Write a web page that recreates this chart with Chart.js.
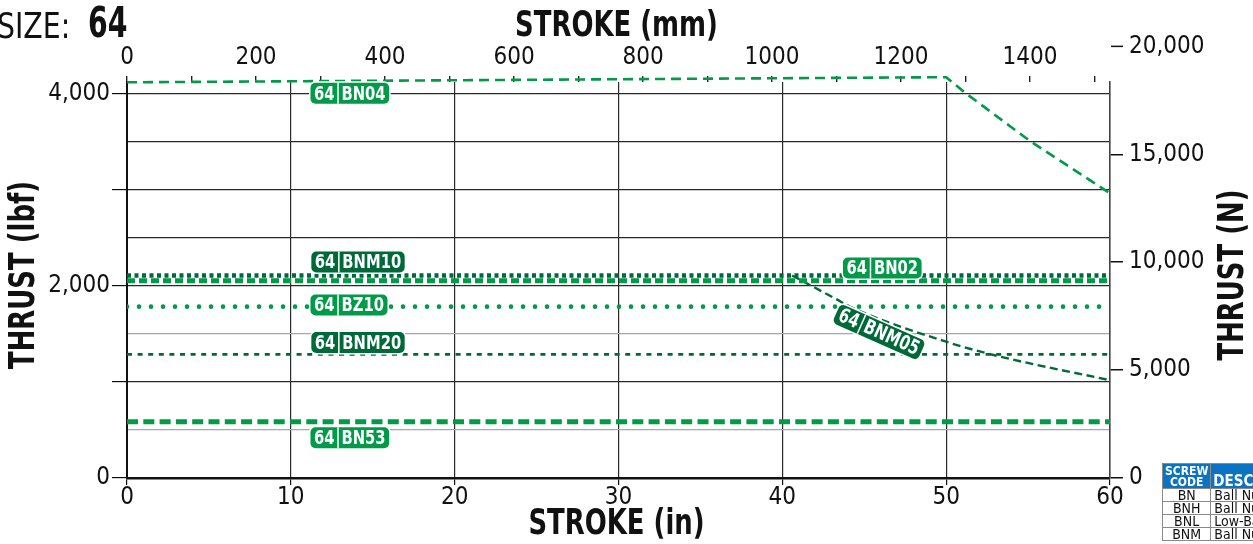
<!DOCTYPE html>
<html>
<head>
<meta charset="utf-8">
<title>Size 64 - Thrust vs Stroke</title>
<script src="https://cdn.jsdelivr.net/npm/chart.js@4.4.1/dist/chart.umd.min.js"></script>
<style>
    html, body { margin: 0; padding: 0; background: #fff; overflow: hidden; }
    body {
        width: 1253px; height: 544px; position: relative;
        font-family: "DejaVu Sans Condensed", "Liberation Sans Narrow", sans-serif;
        color: #111;
    }
    #thrustChart { position: absolute; left: 0; top: 0; }
    .size-lbl, .size-num {
        position: absolute; white-space: nowrap; line-height: 1; transform-origin: 0 0;
    }
    .size-lbl { left: -3px; top: 9px; font-size: 35px; transform: scaleX(0.9); }
    .size-num { left: 88px; top: 2px; font-size: 42px; font-weight: bold; transform: scaleX(0.75); }
    table.codes {
        position: absolute; left: 1162px; top: 463px;
        border-collapse: collapse; white-space: nowrap; font-size: 14px;
    }
    table.codes th {
        background: #0a74c2; color: #fff; font-weight: bold; border: 1px solid #8a8a8a;
        height: 24px; padding: 0 2px; vertical-align: bottom; line-height: 11px;
    }
    table.codes th.c1 { font-size: 12px; width: 46px; text-align: center; }
    table.codes th.c2 { font-size: 15px; text-align: left; width: 120px; line-height: 14px; }
    table.codes td { border: 1px solid #8a8a8a; height: 12px; line-height: 12px; padding: 0 3px; }
    table.codes td.c1 { text-align: center; }
</style>
</head>
<body>
<canvas id="thrustChart" width="1253" height="544"></canvas>
<div class="size-lbl">SIZE:</div>
<div class="size-num">64</div>
<table class="codes">
    <tr><th class="c1">SCREW<br>CODE</th><th class="c2">DESCRIPTION</th></tr>
    <tr><td class="c1">BN</td><td>Ball Nut</td></tr>
    <tr><td class="c1">BNH</td><td>Ball Nut, High Load</td></tr>
    <tr><td class="c1">BNL</td><td>Low-Backlash Ball Nut</td></tr>
    <tr><td class="c1">BNM</td><td>Ball Nut, Metric</td></tr>
</table>

<script>
// Stroke in inches, thrust in lbf
const bn04Stroke = [0, 50, 51.2, 55.2, 60];
const bn04Thrust = [4122, 4175, 4007, 3500, 2965];

const bnm10Stroke = [0, 60];
const bnm10Thrust = [2109, 2109];

const bn02Stroke = [0, 60];
const bn02Thrust = [2054, 2054];

const bz10Stroke = [0, 60];
const bz10Thrust = [1785, 1785];

const bnm20Stroke = [0, 60];
const bnm20Thrust = [1287, 1287];

const bn53Stroke = [0, 60];
const bn53Thrust = [587, 587];

const bnm05Stroke = [40.6, 43.2, 44.3, 50.05, 52.9, 60];
const bnm05Thrust = [2109, 1872, 1771, 1417, 1281, 1018];

// tick labels
const lbfGrid = [0, 500, 1000, 1500, 2000, 2500, 3000, 3500, 4000];
const lbfLabels = [0, 2000, 4000];
const newtonTicks = [0, 5000, 10000, 15000, 20000];
const mmLabelStep = 200;

// Chart colors
const green = '#009a49';
const darkGreen = '#00693a';
const ink = '#111';
const FONT = '"DejaVu Sans Condensed", "Liberation Sans Narrow", sans-serif';
const SQUEEZE = 0.8;   // the original uses a condensed face

const LBF_TO_N = 4.44822;
const IN_TO_MM = 25.4;
const lbfMax = 4125;   // top edge of plot area

// curve name tags (data coordinates of tag centre)
const tags = [
    { code: 'BN04',  x: 13.6, y: 4007, color: green,     angle: 0 },
    { code: 'BNM10', x: 14.1, y: 2250, color: darkGreen, angle: 0 },
    { code: 'BZ10',  x: 13.55, y: 1802, color: green,    angle: 0 },
    { code: 'BNM20', x: 14.1, y: 1411, color: darkGreen, angle: 0 },
    { code: 'BN53',  x: 13.6, y: 420,  color: green,     angle: 0 },
    { code: 'BN02',  x: 46.1, y: 2188, color: green,     angle: 0 },
    { code: 'BNM05', x: 45.9, y: 1521, color: darkGreen, angle: 24 }
];

function points(xs, ys) {
    return xs.map((v, i) => ({ x: v, y: ys[i] }));
}

function squeezedText(ctx, text, x, y, angle, size) {
    ctx.save();
    ctx.translate(x, y);
    ctx.rotate(angle);
    ctx.scale(SQUEEZE, 1);
    ctx.font = 'bold ' + size + 'px ' + FONT;
    ctx.textAlign = 'center';
    ctx.textBaseline = 'middle';
    ctx.fillText(text, 0, 0);
    ctx.restore();
}

const tagPlugin = {
    id: 'tags',
    afterDatasetsDraw(chart) {
        const { ctx } = chart;
        const xs = chart.scales.x, ys = chart.scales.y;
        const sq = 0.82;
        ctx.save();
        ctx.font = 'bold 20px ' + FONT;
        tags.forEach(t => {
            const px = xs.getPixelForValue(t.x);
            const py = ys.getPixelForValue(t.y);
            const w1 = ctx.measureText('64').width * sq + 7;
            const w2 = ctx.measureText(t.code).width * sq + 7;
            const w = w1 + w2, h = 21;
            ctx.save();
            ctx.translate(px, py);
            ctx.rotate(t.angle * Math.PI / 180);
            ctx.beginPath();
            ctx.roundRect(-w / 2, -h / 2, w, h, 5);
            ctx.lineWidth = 3;
            ctx.strokeStyle = '#fff';
            ctx.stroke();
            ctx.fillStyle = t.color;
            ctx.fill();
            ctx.lineWidth = 1.5;
            ctx.beginPath();
            ctx.moveTo(-w / 2 + w1, -h / 2);
            ctx.lineTo(-w / 2 + w1, h / 2);
            ctx.stroke();
            ctx.fillStyle = '#fff';
            ctx.textAlign = 'center';
            ctx.textBaseline = 'middle';
            [['64', -w / 2 + w1 / 2], [t.code, -w / 2 + w1 + w2 / 2]].forEach(([s, cx]) => {
                ctx.save();
                ctx.translate(cx, 1);
                ctx.scale(sq, 1);
                ctx.fillText(s, 0, 0);
                ctx.restore();
            });
            ctx.restore();
        });
        ctx.restore();
    }
};

// axis titles, plus the 20,000 N tick which sits above the plot area
const axisExtrasPlugin = {
    id: 'axisExtras',
    afterDraw(chart) {
        const { ctx, chartArea } = chart;
        const s = chart.scales.y2;
        const midX = (chartArea.left + chartArea.right) / 2;
        const midY = (chartArea.top + chartArea.bottom) / 2;
        ctx.save();
        ctx.strokeStyle = ink;
        ctx.fillStyle = ink;
        ctx.lineWidth = 1.5;
        ctx.font = '24px ' + FONT;
        ctx.textAlign = 'left';
        ctx.textBaseline = 'middle';
        newtonTicks.filter(v => v > s.max).forEach(v => {
            const py = s.getPixelForValue(v);
            ctx.beginPath();
            ctx.moveTo(s.left + 1, py);
            ctx.lineTo(s.left + 13, py);
            ctx.stroke();
            ctx.fillText(v.toLocaleString('en-US'), s.left + 19, py);
        });
        squeezedText(ctx, 'STROKE (mm)', midX - 2, 27, 0, 36);
        squeezedText(ctx, 'STROKE (in)', midX - 2, 525, 0, 36);
        squeezedText(ctx, 'THRUST (lbf)', 25, midY - 5, -Math.PI / 2, 36);
        squeezedText(ctx, 'THRUST (N)', 1234, midY - 5, -Math.PI / 2, 36);
        ctx.restore();
    }
};

document.addEventListener('DOMContentLoaded', function() {
    const ctx = document.getElementById('thrustChart');
    if (!ctx) return;

    const tickFont = { family: FONT, size: 24, lineHeight: 1 };

    new Chart(ctx, {
        type: 'line',
        data: {
            datasets: [
                {
                    label: '64 BN04',
                    data: points(bn04Stroke, bn04Thrust),
                    borderColor: green, borderWidth: 2.6, borderDash: [10, 6],
                    clip: false
                },
                {
                    label: '64 BNM10',
                    data: points(bnm10Stroke, bnm10Thrust),
                    borderColor: darkGreen, borderWidth: 4.5, borderDash: [4, 3.5]
                },
                {
                    label: '64 BN02',
                    data: points(bn02Stroke, bn02Thrust),
                    borderColor: green, borderWidth: 5, borderDash: [8, 4]
                },
                {
                    label: '64 BNM05',
                    data: points(bnm05Stroke, bnm05Thrust),
                    borderColor: darkGreen, borderWidth: 2.4, borderDash: [8, 4.5],
                    cubicInterpolationMode: 'monotone'
                },
                {
                    label: '64 BZ10',
                    data: points(bz10Stroke, bz10Thrust),
                    borderColor: green, borderWidth: 4.6, borderDash: [0, 12],
                    borderCapStyle: 'round'
                },
                {
                    label: '64 BNM20',
                    data: points(bnm20Stroke, bnm20Thrust),
                    borderColor: darkGreen, borderWidth: 2.8, borderDash: [5, 5.6]
                },
                {
                    label: '64 BN53',
                    data: points(bn53Stroke, bn53Thrust),
                    borderColor: green, borderWidth: 5, borderDash: [11, 5.3]
                }
            ]
        },
        options: {
            responsive: false,
            animation: false,
            devicePixelRatio: 1,
            layout: { padding: 0 },
            elements: { point: { radius: 0 }, line: { fill: false } },
            plugins: {
                legend: { display: false },
                tooltip: { enabled: false }
            },
            scales: {
                x: {
                    type: 'linear',
                    position: 'bottom',
                    min: 0, max: 60,
                    afterFit: s => { s.height = 66; },
                    grid: { color: '#2a2a2a', lineWidth: 1.2, tickLength: 7, tickColor: ink },
                    border: { color: ink, width: 2.5 },
                    ticks: {
                        stepSize: 10, autoSkip: false, maxRotation: 0, padding: 1,
                        color: ink, font: tickFont
                    }
                },
                x2: {
                    type: 'linear',
                    position: 'top',
                    min: 0, max: 60 * IN_TO_MM,
                    afterFit: s => { s.height = 82; },
                    grid: { drawOnChartArea: false, tickLength: 6, tickColor: '#222', lineWidth: 1.4 },
                    border: { display: false },
                    ticks: {
                        stepSize: 100, includeBounds: false, autoSkip: false, maxRotation: 0,
                        padding: 6, color: ink, font: tickFont,
                        callback: v => (v % mmLabelStep === 0 ? String(v) : '')
                    }
                },
                y: {
                    type: 'linear',
                    position: 'left',
                    min: 0, max: lbfMax,
                    afterFit: s => { s.width = 127; },
                    afterBuildTicks: s => { s.ticks = lbfGrid.map(v => ({ value: v })); },
                    grid: {
                        color: c => (c.tick.value < 2000 && c.tick.value % 1000 === 500) ? '#a8a8a8' : '#2a2a2a',
                        lineWidth: 1.2,
                        tickLength: 15,
                        tickColor: c => (c.tick.value % 1000 === 0 ? ink : 'rgba(0,0,0,0)')
                    },
                    border: { color: ink, width: 2 },
                    ticks: {
                        autoSkip: false, padding: 2, color: ink, font: tickFont,
                        callback: v => (lbfLabels.includes(v) ? v.toLocaleString('en-US') : '')
                    }
                },
                y2: {
                    type: 'linear',
                    position: 'right',
                    min: 0, max: lbfMax * LBF_TO_N,
                    afterFit: s => { s.width = 143; },
                    afterBuildTicks: s => {
                        s.ticks = newtonTicks.filter(v => v <= s.max).map(v => ({ value: v }));
                    },
                    grid: { drawOnChartArea: false, tickLength: 13, tickColor: ink, lineWidth: 1.5 },
                    border: { color: '#444', width: 1.5 },
                    ticks: {
                        autoSkip: false, padding: 6, color: ink, font: tickFont,
                        callback: v => v.toLocaleString('en-US')
                    }
                }
            }
        },
        plugins: [tagPlugin, axisExtrasPlugin]
    });
});
</script>
</body>
</html>
